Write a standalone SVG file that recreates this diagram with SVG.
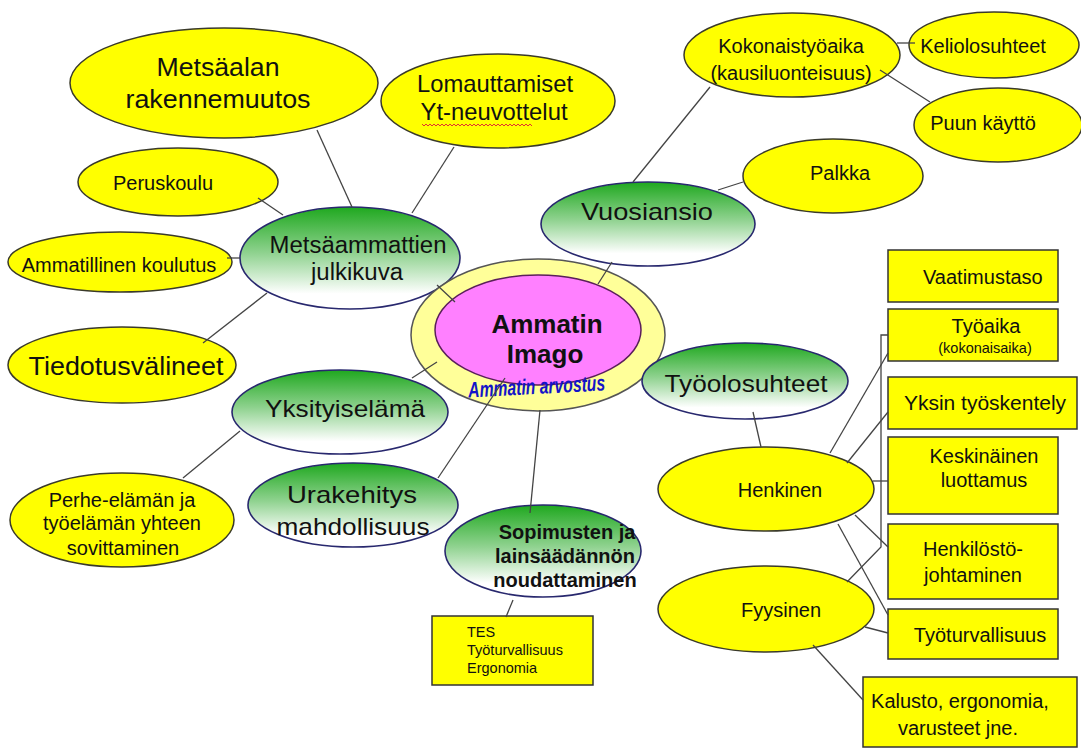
<svg xmlns="http://www.w3.org/2000/svg" width="1081" height="749" viewBox="0 0 1081 749">
<defs>
<linearGradient id="g" x1="0" y1="0" x2="0" y2="1">
<stop offset="0" stop-color="#1fa81f"/>
<stop offset="0.45" stop-color="#8fd28f"/>
<stop offset="0.85" stop-color="#ffffff"/>
<stop offset="1" stop-color="#ffffff"/>
</linearGradient>
<style>
.y{fill:#ffff00;stroke:#3a3a2a;stroke-width:1.5}
.gr{fill:url(#g);stroke:#28286e;stroke-width:1.6}
.b{fill:#ffff00;stroke:#333;stroke-width:1.5}
.c line,.c polyline{stroke:#444;stroke-width:1.3;fill:none}
text{font-family:"Liberation Sans",Arial,sans-serif;fill:#111;text-anchor:middle}
.s{font-size:20px}
.L{font-size:24px}
.t{font-size:14.5px;text-anchor:start}
</style>
</defs>
<rect width="1081" height="749" fill="#ffffff"/>

<g id="metsaalan"><ellipse class="y" cx="224" cy="83" rx="154" ry="55"/>
<text class="L" x="218" y="76" style="font-size:25.5px" textLength="123" lengthAdjust="spacingAndGlyphs">Metsäalan</text>
<text class="L" x="218" y="108" style="font-size:25.5px" textLength="185" lengthAdjust="spacingAndGlyphs">rakennemuutos</text></g>

<g id="lomauttamiset"><ellipse class="y" cx="498" cy="101" rx="117" ry="47"/>
<text class="L" x="495" y="92" style="font-size:24px" textLength="156" lengthAdjust="spacingAndGlyphs">Lomauttamiset</text>
<text class="L" x="494" y="120" style="font-size:24px" textLength="147" lengthAdjust="spacingAndGlyphs">Yt-neuvottelut</text>
<path d="M422 124 l2 2 2 -2 2 2 2 -2 2 2 2 -2 2 2 2 -2 2 2 2 -2 2 2 2 -2 2 2 2 -2 2 2 2 -2 2 2 2 -2 2 2 2 -2 2 2 2 -2 2 2 2 -2 2 2 2 -2 2 2 2 -2 2 2 2 -2 2 2 2 -2 2 2 2 -2 2 2 2 -2 2 2 2 -2 2 2 2 -2 2 2 2 -2 2 2 2 -2 2 2 2 -2 2 2 2 -2 2 2 2 -2 2 2 2 -2 2 2 2 -2 2 2" fill="none" stroke="#e03030" stroke-width="1"/></g>

<g id="peruskoulu"><ellipse class="y" cx="178" cy="182" rx="100" ry="34"/>
<text class="s" x="163" y="190">Peruskoulu</text></g>

<g id="ammatillinen"><ellipse class="y" cx="120" cy="262" rx="112" ry="30"/>
<text class="s" x="119" y="272">Ammatillinen koulutus</text></g>

<g id="tiedotus"><ellipse class="y" cx="122" cy="365" rx="114" ry="38"/>
<text class="L" x="126" y="375" style="font-size:25px" textLength="195" lengthAdjust="spacingAndGlyphs">Tiedotusvälineet</text></g>

<g id="julkikuva"><ellipse class="gr" cx="350" cy="258" rx="110" ry="51"/>
<text class="L" x="358" y="253" style="font-size:23.5px" textLength="177" lengthAdjust="spacingAndGlyphs">Metsäammattien</text>
<text class="L" x="357" y="280" style="font-size:23.5px" textLength="92" lengthAdjust="spacingAndGlyphs">julkikuva</text></g>

<g id="kokonais"><ellipse class="y" cx="792" cy="55" rx="108" ry="42"/>
<text class="s" x="791" y="53">Kokonaistyöaika</text>
<text class="s" x="791" y="80">(kausiluonteisuus)</text></g>

<g id="keli"><ellipse class="y" cx="994" cy="45" rx="85" ry="33"/>
<text class="s" x="983" y="53">Keliolosuhteet</text></g>

<g id="puun"><ellipse class="y" cx="998" cy="125" rx="84" ry="37"/>
<text class="s" x="983" y="130">Puun käyttö</text></g>

<g id="palkka"><ellipse class="y" cx="833" cy="176" rx="90" ry="37"/>
<text class="s" x="840" y="180">Palkka</text></g>

<g id="vuosiansio"><ellipse class="gr" cx="648" cy="224" rx="107" ry="42"/>
<text class="L" x="647" y="220" textLength="132" lengthAdjust="spacingAndGlyphs">Vuosiansio</text></g>

<g id="ammatin"><ellipse cx="538" cy="335" rx="127" ry="76" fill="#ffff99" stroke="#555" stroke-width="1.5"/>
<ellipse cx="538" cy="330" rx="103" ry="55" fill="#ff80ff" stroke="#5a1f5a" stroke-width="1.5"/>
<text x="547" y="333" style="font-size:26px;font-weight:bold">Ammatin</text>
<text x="545" y="363" style="font-size:26px;font-weight:bold">Imago</text>
<text x="537" y="394" textLength="137" lengthAdjust="spacingAndGlyphs" transform="rotate(-3 537 394)" style="font-size:22px;font-weight:bold;font-style:italic;fill:#1414c8">Ammatin arvostus</text></g>

<g id="tyoolo"><ellipse class="gr" cx="745" cy="381" rx="103" ry="38"/>
<text class="L" x="746" y="392" textLength="163" lengthAdjust="spacingAndGlyphs">Työolosuhteet</text></g>

<g id="yksityis"><ellipse class="gr" cx="340" cy="412" rx="108" ry="42"/>
<text class="L" x="345" y="417" textLength="160" lengthAdjust="spacingAndGlyphs">Yksityiselämä</text></g>

<g id="perhe"><ellipse class="y" cx="122" cy="520" rx="112" ry="47"/>
<text class="s" x="122" y="507">Perhe-elämän ja</text>
<text class="s" x="122" y="530">työelämän yhteen</text>
<text class="s" x="123" y="555">sovittaminen</text></g>

<g id="urakehitys"><ellipse class="gr" cx="353" cy="505" rx="105" ry="42"/>
<text class="L" x="352" y="503" textLength="130" lengthAdjust="spacingAndGlyphs">Urakehitys</text>
<text class="L" x="353" y="535" textLength="153" lengthAdjust="spacingAndGlyphs">mahdollisuus</text></g>

<g id="sopimusten"><ellipse class="gr" cx="543" cy="551" rx="98" ry="46"/>
<text x="567" y="539" style="font-size:20px;font-weight:bold">Sopimusten ja</text>
<text x="565" y="563" style="font-size:20px;font-weight:bold">lainsäädännön</text>
<text x="565" y="587" style="font-size:20px;font-weight:bold">noudattaminen</text></g>

<g id="tes"><rect class="b" x="432" y="616" width="161" height="69"/>
<text class="t" x="467" y="637">TES</text>
<text class="t" x="467" y="655">Työturvallisuus</text>
<text class="t" x="467" y="673">Ergonomia</text></g>

<g id="vaatimustaso"><rect class="b" x="888" y="250" width="170" height="52"/>
<text class="s" x="923" y="284" style="text-anchor:start">Vaatimustaso</text></g>

<g id="tyoaika"><rect class="b" x="888" y="309" width="170" height="52"/>
<text class="s" x="986" y="333">Työaika</text>
<text x="985" y="353" style="font-size:14.5px">(kokonaisaika)</text></g>

<g id="yksin"><rect class="b" x="888" y="377" width="189" height="52"/>
<text class="s" x="985" y="410" style="font-size:21px">Yksin työskentely</text></g>

<g id="keskinainen"><rect class="b" x="888" y="437" width="170" height="77"/>
<text class="s" x="984" y="463">Keskinäinen</text>
<text class="s" x="984" y="487">luottamus</text></g>

<g id="henkilosto"><rect class="b" x="888" y="524" width="170" height="75"/>
<text class="s" x="973" y="556">Henkilöstö-</text>
<text class="s" x="973" y="582">johtaminen</text></g>

<g id="tyoturv"><rect class="b" x="888" y="609" width="170" height="50"/>
<text class="s" x="980" y="642">Työturvallisuus</text></g>

<g id="kalusto"><rect class="b" x="863" y="677" width="214" height="70"/>
<text class="s" x="960" y="708">Kalusto, ergonomia,</text>
<text class="s" x="958" y="735">varusteet jne.</text></g>

<g id="henkinen"><ellipse class="y" cx="766" cy="489" rx="108" ry="42"/>
<text class="s" x="780" y="497">Henkinen</text></g>

<g id="fyysinen"><ellipse class="y" cx="766" cy="609" rx="108" ry="43"/>
<text class="s" x="781" y="617">Fyysinen</text></g>

<g id="connectors" class="c">
<line x1="317" y1="130" x2="352" y2="207"/>
<line x1="258" y1="198" x2="283" y2="215"/>
<line x1="454" y1="147" x2="412" y2="213"/>
<line x1="227" y1="258" x2="240" y2="258"/>
<line x1="203" y1="343" x2="267" y2="293"/>
<line x1="437" y1="285" x2="455" y2="302"/>
<line x1="412" y1="378" x2="437" y2="362"/>
<line x1="240" y1="431" x2="183" y2="478"/>
<line x1="438" y1="478" x2="505" y2="378"/>
<line x1="540" y1="410" x2="530" y2="513"/>
<line x1="513" y1="600" x2="506" y2="617"/>
<line x1="612" y1="262" x2="598" y2="284"/>
<line x1="633" y1="182" x2="710" y2="87"/>
<line x1="718" y1="190" x2="743" y2="182"/>
<line x1="897" y1="43" x2="915" y2="43"/>
<line x1="880" y1="70" x2="930" y2="102"/>
<line x1="753" y1="412" x2="761" y2="447"/>
<line x1="830" y1="453" x2="888" y2="353"/>
<line x1="847" y1="463" x2="888" y2="412"/>
<line x1="873" y1="481" x2="888" y2="481"/>
<line x1="855" y1="515" x2="888" y2="547"/>
<line x1="838" y1="524" x2="888" y2="615"/>
<line x1="865" y1="627" x2="888" y2="633"/>
<line x1="813" y1="645" x2="863" y2="700"/>
<polyline points="847,582 881,547 881,335 888,335"/>
</g>
</svg>
